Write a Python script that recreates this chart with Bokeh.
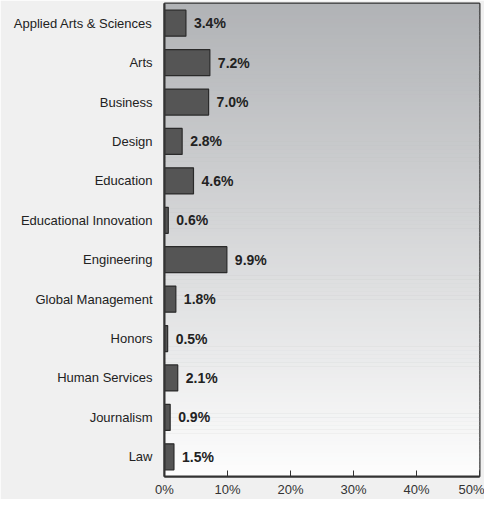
from bokeh.plotting import figure
from bokeh.models import Range1d, FixedTicker, ColumnDataSource
from bokeh.core.properties import value
from bokeh.embed import file_html
from bokeh.resources import INLINE

categories = ["Applied Arts & Sciences", "Arts", "Business", "Design", "Education",
              "Educational Innovation", "Engineering", "Global Management", "Honors",
              "Human Services", "Journalism", "Law"]
percent = [3.4, 7.2, 7.0, 2.8, 4.6, 0.6, 9.9, 1.8, 0.5, 2.1, 0.9, 1.5]
x_ticks = [0, 10, 20, 30, 40, 50]

FONT = "Liberation Sans"
n = len(categories)
ypos = list(range(n))

p = figure(width=484, height=499, output_backend="svg", toolbar_location=None,
           x_range=Range1d(0, 50), y_range=Range1d(n - 0.5, -0.5),
           min_border_left=164, min_border_right=5, min_border_top=3, min_border_bottom=0)
p.background_fill_color = "#b4b6b9"
p.border_fill_color = "#f0f0f0"
p.outline_line_color = "#333333"
p.outline_line_width = 2
p.grid.visible = False

# vertical gradient background (styling)
bands = 120
top_rgb = (0xb1, 0xb3, 0xb6)
bot_rgb = (0xfd, 0xfd, 0xfd)
b_top, b_bot, b_col = [], [], []
for i in range(bands):
    t = i / (bands - 1)
    c = tuple(int(round(a + (b - a) * t)) for a, b in zip(top_rgb, bot_rgb))
    b_top.append(-0.5 + n * i / bands)
    b_bot.append(-0.5 + n * (i + 1) / bands + 0.01)
    b_col.append("#%02x%02x%02x" % c)
p.quad(left=0, right=50, top=b_top, bottom=b_bot, fill_color=b_col, line_color=None)

src = ColumnDataSource(dict(y=ypos, v=percent, lab=["%.1f%%" % v for v in percent]))
p.hbar(y="y", right="v", left=0, height=0.66, source=src,
       fill_color="#555555", line_color="#2a2a2a", line_width=1.2)
p.text(x="v", y="y", text="lab", source=src, x_offset=8, text_align="left",
       text_baseline="middle", text_font=value(FONT), text_font_style="bold",
       text_font_size="14px", text_color="#222222")

p.xaxis.ticker = FixedTicker(ticks=x_ticks)
p.xaxis.major_label_overrides = {t: "%d%%" % t for t in x_ticks}
p.xaxis.major_tick_in = 6
p.xaxis.major_tick_out = 0
p.xaxis.minor_tick_line_color = None
p.xaxis.axis_line_color = "#333333"
p.xaxis.axis_line_width = 2
p.xaxis.major_tick_line_color = "#333333"
p.xaxis.major_label_text_font = FONT
p.xaxis.major_label_text_font_size = "13px"
p.xaxis.major_label_text_color = "#333333"
p.xaxis.major_label_standoff = 5

p.yaxis.ticker = FixedTicker(ticks=ypos)
p.yaxis.major_label_overrides = {i: c for i, c in enumerate(categories)}
p.yaxis.major_tick_line_color = None
p.yaxis.minor_tick_line_color = None
p.yaxis.axis_line_color = "#333333"
p.yaxis.axis_line_width = 2
p.yaxis.major_label_text_font = FONT
p.yaxis.major_label_text_font_size = "13px"
p.yaxis.major_label_text_color = "#222222"
p.yaxis.major_label_standoff = 6

open("out.html", "w").write(file_html(p, INLINE))
